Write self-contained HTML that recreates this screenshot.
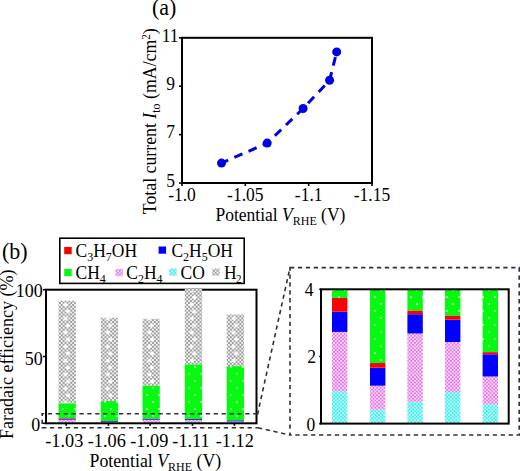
<!DOCTYPE html>
<html><head><meta charset="utf-8"><style>
html,body{margin:0;padding:0;background:#fff;}
svg{display:block;font-family:"Liberation Serif",serif;}
</style></head><body>
<svg width="520" height="471" viewBox="0 0 520 471">
<defs>
<pattern id="pg" width="3.8" height="3.8" patternUnits="userSpaceOnUse">
<rect width="3.8" height="3.8" fill="#f2f2f2"/><rect x="0" y="0" width="1.9" height="1.9" fill="#9c9c9c"/><rect x="1.9" y="1.9" width="1.9" height="1.9" fill="#9c9c9c"/></pattern>
<pattern id="pm" width="3.6" height="3.6" patternUnits="userSpaceOnUse">
<rect width="3.6" height="3.6" fill="#ffd8ff"/><rect width="1.8" height="1.8" fill="#e278e2"/><rect x="1.8" y="1.8" width="1.8" height="1.8" fill="#e278e2"/></pattern>
<pattern id="pc" width="3.6" height="3.6" patternUnits="userSpaceOnUse">
<rect width="3.6" height="3.6" fill="#b4fffa"/><rect width="1.8" height="1.8" fill="#4aeaea"/><rect x="1.8" y="1.8" width="1.8" height="1.8" fill="#4aeaea"/></pattern>
<pattern id="pgr" width="12" height="14" patternUnits="userSpaceOnUse">
<rect width="12" height="14" fill="#06fa10"/><circle cx="3" cy="3" r="1.1" fill="#c0ffc0"/><circle cx="9" cy="10" r="1.1" fill="#c0ffc0"/></pattern>
<pattern id="pgw0" x="58.5" y="0" width="17.3" height="14" patternUnits="userSpaceOnUse"><circle cx="9.5" cy="3.5" r="2" fill="#fcfcfc"/><circle cx="7" cy="10.5" r="2" fill="#fcfcfc"/></pattern><pattern id="pgw1" x="100.8" y="0" width="17.3" height="14" patternUnits="userSpaceOnUse"><circle cx="9.5" cy="3.5" r="2" fill="#fcfcfc"/><circle cx="7" cy="10.5" r="2" fill="#fcfcfc"/></pattern><pattern id="pgw2" x="142.5" y="0" width="17.3" height="14" patternUnits="userSpaceOnUse"><circle cx="9.5" cy="3.5" r="2" fill="#fcfcfc"/><circle cx="7" cy="10.5" r="2" fill="#fcfcfc"/></pattern><pattern id="pgw3" x="184.8" y="0" width="17.3" height="14" patternUnits="userSpaceOnUse"><circle cx="9.5" cy="3.5" r="2" fill="#fcfcfc"/><circle cx="7" cy="10.5" r="2" fill="#fcfcfc"/></pattern><pattern id="pgw4" x="226.7" y="0" width="17.3" height="14" patternUnits="userSpaceOnUse"><circle cx="9.5" cy="3.5" r="2" fill="#fcfcfc"/><circle cx="7" cy="10.5" r="2" fill="#fcfcfc"/></pattern></defs>
<text transform="translate(152,15.1) scale(1,1.04)" font-size="22" text-anchor="start" >(a)</text>
<rect x="182" y="37.8" width="190" height="145.2" fill="none" stroke="#000" stroke-width="2"/>
<line x1="179" y1="183.0" x2="182" y2="183.0" stroke="#000" stroke-width="1.6"/>
<text transform="translate(175,186.8) scale(1,1.06)" font-size="17.5" text-anchor="end" >5</text>
<line x1="179" y1="134.6" x2="182" y2="134.6" stroke="#000" stroke-width="1.6"/>
<text transform="translate(175,138.4) scale(1,1.06)" font-size="17.5" text-anchor="end" >7</text>
<line x1="179" y1="86.2" x2="182" y2="86.2" stroke="#000" stroke-width="1.6"/>
<text transform="translate(175,90.0) scale(1,1.06)" font-size="17.5" text-anchor="end" >9</text>
<line x1="179" y1="37.80000000000001" x2="182" y2="37.80000000000001" stroke="#000" stroke-width="1.6"/>
<text transform="translate(178.6,41.6) scale(1,1.06)" font-size="17.5" text-anchor="end" >11</text>
<line x1="182.0" y1="183" x2="182.0" y2="186" stroke="#000" stroke-width="1.6"/>
<text transform="translate(182.0,201.1) scale(1,1.06)" font-size="17.5" text-anchor="middle" >-1.0</text>
<line x1="245.3333333333334" y1="183" x2="245.3333333333334" y2="186" stroke="#000" stroke-width="1.6"/>
<text transform="translate(245.3,201.1) scale(1,1.06)" font-size="17.5" text-anchor="middle" >-1.05</text>
<line x1="308.6666666666668" y1="183" x2="308.6666666666668" y2="186" stroke="#000" stroke-width="1.6"/>
<text transform="translate(308.7,201.1) scale(1,1.06)" font-size="17.5" text-anchor="middle" >-1.1</text>
<line x1="371.9999999999999" y1="183" x2="371.9999999999999" y2="186" stroke="#000" stroke-width="1.6"/>
<text transform="translate(372.0,201.1) scale(1,1.06)" font-size="17.5" text-anchor="middle" >-1.15</text>
<text transform="translate(215.5,221.2) scale(1,1.06)" font-size="17.5" text-anchor="start" >Potential <tspan font-style="italic">V</tspan><tspan font-size="12" dy="4">RHE</tspan><tspan dy="-4"> (V)</tspan></text>
<text transform="translate(155.5,214.2) rotate(-90) scale(1,1.06)" font-size="17.8" text-anchor="start" >Total current <tspan font-style="italic">I</tspan><tspan font-size="12" dy="4">to</tspan><tspan dy="-4"> (mA/cm</tspan><tspan font-size="11" dy="-5.2">2</tspan><tspan dy="5.2">)</tspan></text>
<polyline points="221.5,163.1 267.2,143.1 303.1,108.5 329.6,80.3 336.7,51.9" fill="none" stroke="#0000e6" stroke-width="3" stroke-dasharray="8.8 6.7" stroke-dashoffset="1.5"/>
<circle cx="221.5" cy="163.1" r="4.5" fill="#0000e6"/>
<circle cx="267.2" cy="143.1" r="4.5" fill="#0000e6"/>
<circle cx="303.1" cy="108.5" r="4.5" fill="#0000e6"/>
<circle cx="329.6" cy="80.3" r="4.5" fill="#0000e6"/>
<circle cx="336.7" cy="51.9" r="4.5" fill="#0000e6"/>
<text transform="translate(2,258.9) scale(1,1.04)" font-size="22" text-anchor="start" >(b)</text>
<rect x="59.8" y="238.2" width="184.4" height="45.2" fill="none" stroke="#000" stroke-width="1.6"/>
<rect x="64.2" y="247" width="7.5" height="7.2" fill="#ff0000"/>
<text transform="translate(75.5,256.9) scale(1,1.06)" font-size="17.5" text-anchor="start" >C<tspan font-size="12" dy="4">3</tspan><tspan dy="-4">​</tspan>H<tspan font-size="12" dy="4">7</tspan><tspan dy="-4">​</tspan>OH</text>
<rect x="158.6" y="246.5" width="7.5" height="7.2" fill="#0000ff"/>
<text transform="translate(171.4,256.9) scale(1,1.06)" font-size="17.5" text-anchor="start" >C<tspan font-size="12" dy="4">2</tspan><tspan dy="-4">​</tspan>H<tspan font-size="12" dy="4">5</tspan><tspan dy="-4">​</tspan>OH</text>
<rect x="64.2" y="269" width="7.5" height="7.2" fill="#06fa10"/>
<text transform="translate(75.5,278.9) scale(1,1.06)" font-size="17.5" text-anchor="start" >CH<tspan font-size="12" dy="4">4</tspan><tspan dy="-4">​</tspan></text>
<rect x="115.5" y="269" width="7.5" height="7.2" fill="url(#pm)"/>
<text transform="translate(126.2,278.9) scale(1,1.06)" font-size="17.5" text-anchor="start" >C<tspan font-size="12" dy="4">2</tspan><tspan dy="-4">​</tspan>H<tspan font-size="12" dy="4">4</tspan><tspan dy="-4">​</tspan></text>
<rect x="169.2" y="268.5" width="7.5" height="7.2" fill="url(#pc)"/>
<text transform="translate(180.6,278.9) scale(1,1.06)" font-size="17.5" text-anchor="start" >CO</text>
<rect x="212.2" y="268.5" width="7.5" height="7.2" fill="url(#pg)"/>
<text transform="translate(224.1,278.9) scale(1,1.06)" font-size="17.5" text-anchor="start" >H<tspan font-size="11" dy="4" dx="-0.8">2</tspan><tspan dy="-4">​</tspan></text>
<rect x="58.5" y="300.8" width="17.3" height="102.69999999999999" fill="url(#pg)"/>
<rect x="58.5" y="300.8" width="17.3" height="102.69999999999999" fill="url(#pgw0)"/>
<rect x="58.5" y="403.5" width="17.3" height="14.798206999255399" fill="url(#pgr)"/>
<rect x="58.5" y="422.0107550260611" width="17.3" height="1.289244973938935" fill="url(#pc)"/>
<rect x="58.5" y="419.6511183916605" width="17.3" height="2.3596366344006015" fill="url(#pm)"/>
<rect x="58.5" y="418.8473298585257" width="17.3" height="0.8037885331347638" fill="#0000ff"/>
<rect x="58.5" y="418.2982069992554" width="17.3" height="0.5491228592703123" fill="#ff0000"/>
<rect x="100.8" y="317.8" width="17.3" height="83.30000000000001" fill="url(#pg)"/>
<rect x="100.8" y="317.8" width="17.3" height="83.30000000000001" fill="url(#pgw1)"/>
<rect x="100.8" y="401.1" width="17.3" height="19.788634400595697" fill="url(#pgr)"/>
<rect x="100.8" y="422.7468979895756" width="17.3" height="0.5531020104244249" fill="url(#pc)"/>
<rect x="100.8" y="421.79190171258375" width="17.3" height="0.9549962769918352" fill="url(#pm)"/>
<rect x="100.8" y="421.0756545048399" width="17.3" height="0.7162472077438338" fill="#0000ff"/>
<rect x="100.8" y="420.8886344005957" width="17.3" height="0.18702010424419768" fill="#ff0000"/>
<rect x="142.5" y="318.8" width="17.3" height="67.0" fill="url(#pg)"/>
<rect x="142.5" y="318.8" width="17.3" height="67.0" fill="url(#pgw2)"/>
<rect x="142.5" y="385.8" width="17.3" height="33.00753834698435" fill="url(#pgr)"/>
<rect x="142.5" y="422.4325450483991" width="17.3" height="0.8674549516009051" fill="url(#pc)"/>
<rect x="142.5" y="419.7147848101266" width="17.3" height="2.71776023827249" fill="url(#pm)"/>
<rect x="142.5" y="418.94680863737904" width="17.3" height="0.7679761727475807" fill="#0000ff"/>
<rect x="142.5" y="418.80753834698436" width="17.3" height="0.13927029039467698" fill="#ff0000"/>
<rect x="184.8" y="288.6" width="17.3" height="75.89999999999998" fill="url(#pg)"/>
<rect x="184.8" y="288.6" width="17.3" height="75.89999999999998" fill="url(#pgw3)"/>
<rect x="184.8" y="364.5" width="17.3" height="54.51047505584512" fill="url(#pgr)"/>
<rect x="184.8" y="422.04258823529415" width="17.3" height="1.2574117647058642" fill="url(#pc)"/>
<rect x="184.8" y="420.0530126582279" width="17.3" height="1.9895755770662618" fill="url(#pm)"/>
<rect x="184.8" y="419.1656619508563" width="17.3" height="0.8873507073715814" fill="#0000ff"/>
<rect x="184.8" y="419.0104750558451" width="17.3" height="0.15518689501118388" fill="#ff0000"/>
<rect x="226.7" y="314.5" width="17.3" height="51.69999999999999" fill="url(#pg)"/>
<rect x="226.7" y="314.5" width="17.3" height="51.69999999999999" fill="url(#pgw4)"/>
<rect x="226.7" y="366.2" width="17.3" height="54.25888607594936" fill="url(#pgr)"/>
<rect x="226.7" y="422.5280446760983" width="17.3" height="0.7719553239016932" fill="url(#pc)"/>
<rect x="226.7" y="421.4258198064036" width="17.3" height="1.1022248696947372" fill="url(#pm)"/>
<rect x="226.7" y="420.54244825018617" width="17.3" height="0.883371556217412" fill="#0000ff"/>
<rect x="226.7" y="420.45888607594935" width="17.3" height="0.08356217423681755" fill="#ff0000"/>
<rect x="46" y="289.7" width="210.5" height="133.60000000000002" fill="none" stroke="#000" stroke-width="2"/>
<rect x="184.8" y="288.6" width="17.3" height="2.4" fill="url(#pg)"/>
<line x1="43" y1="423.3" x2="46" y2="423.3" stroke="#000" stroke-width="1.6"/>
<line x1="43" y1="356.5" x2="46" y2="356.5" stroke="#000" stroke-width="1.6"/>
<line x1="43" y1="289.7" x2="46" y2="289.7" stroke="#000" stroke-width="1.6"/>
<text transform="translate(40.2,431.1) scale(1,1.06)" font-size="18" text-anchor="end" >0</text>
<text transform="translate(42.8,364.5) scale(1,1.06)" font-size="18" text-anchor="end" >50</text>
<text transform="translate(42.8,296.5) scale(1,1.06)" font-size="18" text-anchor="end" >100</text>
<line x1="66.15" y1="423.3" x2="66.15" y2="425.8" stroke="#000" stroke-width="1.6"/>
<text transform="translate(64.3,446.8) scale(1,1.06)" font-size="18.3" text-anchor="middle" >-1.03</text>
<line x1="108.45" y1="423.3" x2="108.45" y2="425.8" stroke="#000" stroke-width="1.6"/>
<text transform="translate(106.8,446.8) scale(1,1.06)" font-size="18.3" text-anchor="middle" >-1.06</text>
<line x1="150.15" y1="423.3" x2="150.15" y2="425.8" stroke="#000" stroke-width="1.6"/>
<text transform="translate(149.3,446.8) scale(1,1.06)" font-size="18.3" text-anchor="middle" >-1.09</text>
<line x1="192.45000000000002" y1="423.3" x2="192.45000000000002" y2="425.8" stroke="#000" stroke-width="1.6"/>
<text transform="translate(191.0,446.8) scale(1,1.06)" font-size="18.3" text-anchor="middle" >-1.11</text>
<line x1="234.35" y1="423.3" x2="234.35" y2="425.8" stroke="#000" stroke-width="1.6"/>
<text transform="translate(234.8,446.8) scale(1,1.06)" font-size="18.3" text-anchor="middle" >-1.12</text>
<text transform="translate(89.5,467) scale(1,1.06)" font-size="17.8" text-anchor="start" >Potential <tspan font-style="italic">V</tspan><tspan font-size="12" dy="4">RHE</tspan><tspan dy="-4"> (V)</tspan></text>
<text transform="translate(12.8,439) rotate(-90) scale(1,1.06)" font-size="18" text-anchor="start" >Faradaic efficiency (%)</text>
<path d="M257.5,413.8 H42.2 V427.7 H258" fill="none" stroke="#30303c" stroke-width="1.6" stroke-dasharray="4.3 3.6"/>
<path d="M258,427.7 L290,435" fill="none" stroke="#30303c" stroke-width="1.6" stroke-dasharray="4.3 3.6"/>
<path d="M257.5,414.5 L290,267.6" fill="none" stroke="#30303c" stroke-width="1.6" stroke-dasharray="4.3 3.6"/>
<rect x="290" y="267.6" width="229.2" height="167.4" fill="none" stroke="#30303c" stroke-width="1.6" stroke-dasharray="4.3 3.6"/>
<rect x="332.0" y="289.3" width="15.4" height="8.599999999999966" fill="url(#pgr)"/>
<rect x="332.0" y="391.2" width="15.4" height="32.400000000000034" fill="url(#pc)"/>
<rect x="332.0" y="331.9" width="15.4" height="59.30000000000001" fill="url(#pm)"/>
<rect x="332.0" y="311.7" width="15.4" height="20.19999999999999" fill="#0000ff"/>
<rect x="332.0" y="297.9" width="15.4" height="13.800000000000011" fill="#ff0000"/>
<rect x="370.0" y="289.3" width="15.4" height="73.69999999999999" fill="url(#pgr)"/>
<rect x="370.0" y="409.7" width="15.4" height="13.900000000000034" fill="url(#pc)"/>
<rect x="370.0" y="385.7" width="15.4" height="24.0" fill="url(#pm)"/>
<rect x="370.0" y="367.7" width="15.4" height="18.0" fill="#0000ff"/>
<rect x="370.0" y="363.0" width="15.4" height="4.699999999999989" fill="#ff0000"/>
<rect x="407.4" y="289.3" width="15.4" height="21.399999999999977" fill="url(#pgr)"/>
<rect x="407.4" y="401.8" width="15.4" height="21.80000000000001" fill="url(#pc)"/>
<rect x="407.4" y="333.5" width="15.4" height="68.30000000000001" fill="url(#pm)"/>
<rect x="407.4" y="314.2" width="15.4" height="19.30000000000001" fill="#0000ff"/>
<rect x="407.4" y="310.7" width="15.4" height="3.5" fill="#ff0000"/>
<rect x="445.0" y="289.3" width="15.4" height="26.5" fill="url(#pgr)"/>
<rect x="445.0" y="392.0" width="15.4" height="31.600000000000023" fill="url(#pc)"/>
<rect x="445.0" y="342.0" width="15.4" height="50.0" fill="url(#pm)"/>
<rect x="445.0" y="319.7" width="15.4" height="22.30000000000001" fill="#0000ff"/>
<rect x="445.0" y="315.8" width="15.4" height="3.8999999999999773" fill="#ff0000"/>
<rect x="482.6" y="289.3" width="15.4" height="62.89999999999998" fill="url(#pgr)"/>
<rect x="482.6" y="404.2" width="15.4" height="19.400000000000034" fill="url(#pc)"/>
<rect x="482.6" y="376.5" width="15.4" height="27.69999999999999" fill="url(#pm)"/>
<rect x="482.6" y="354.3" width="15.4" height="22.19999999999999" fill="#0000ff"/>
<rect x="482.6" y="352.2" width="15.4" height="2.1000000000000227" fill="#ff0000"/>
<rect x="321.0" y="289.3" width="187.7" height="134.3" fill="none" stroke="#000" stroke-width="2"/>
<line x1="319.2" y1="423.6" x2="321.0" y2="423.6" stroke="#000" stroke-width="1.6"/>
<text transform="translate(315.2,431.1) scale(1,1.06)" font-size="17.5" text-anchor="end" >0</text>
<line x1="319.2" y1="356.45000000000005" x2="321.0" y2="356.45000000000005" stroke="#000" stroke-width="1.6"/>
<text transform="translate(316,362.7) scale(1,1.06)" font-size="17.5" text-anchor="end" >2</text>
<line x1="319.2" y1="289.3" x2="321.0" y2="289.3" stroke="#000" stroke-width="1.6"/>
<text transform="translate(313.4,295.5) scale(1,1.06)" font-size="17.5" text-anchor="end" >4</text>
</svg>
</body></html>
